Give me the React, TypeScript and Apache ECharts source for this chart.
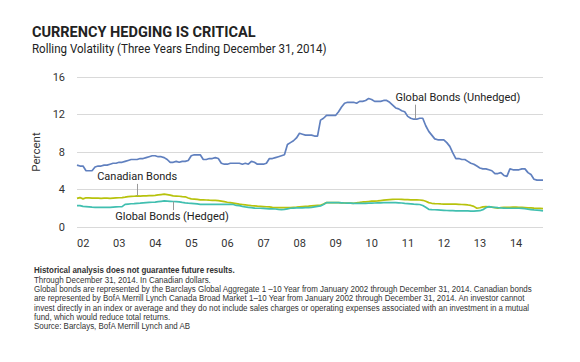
import React, { useEffect, useRef } from "react";
import * as echarts from "echarts";

const yearLabels = ["02", "03", "04", "05", "06", "07", "08", "09", "10", "11", "12", "13", "14"];
const yTicks = [0, 4, 8, 12, 16];

// Monthly rolling volatility, Jan 2002 – Dec 2014 (percent)
const globalUnhedged = [
  6.6, 6.5, 6.5, 6.0, 6.0, 6.0, 6.4, 6.5, 6.5, 6.6, 6.6, 6.7,
  6.8, 6.8, 6.9, 6.9, 7.0, 7.1, 7.2, 7.2, 7.2, 7.3, 7.3, 7.4,
  7.5, 7.6, 7.6, 7.5, 7.5, 7.4, 7.2, 6.9, 6.9, 7.0, 6.9, 7.0,
  7.0, 7.1, 7.6, 7.7, 7.7, 7.7, 7.2, 7.2, 7.3, 7.3, 7.4, 7.3,
  6.8, 6.7, 6.7, 6.8, 6.8, 6.8, 6.8, 6.7, 6.8, 6.7, 7.0, 6.9,
  6.7, 6.7, 6.7, 6.8, 7.3, 7.3, 7.4, 7.5, 7.6, 7.7, 8.8, 9.0,
  9.2, 9.5, 10.0, 9.9, 9.8, 9.8, 9.8, 9.7, 9.7, 11.4, 11.6, 11.9,
  11.9, 11.9, 11.9, 12.3, 12.8, 13.2, 13.3, 13.3, 13.3, 13.2, 13.4, 13.4,
  13.5, 13.7, 13.6, 13.4, 13.4, 13.4, 13.5, 13.5, 13.3, 13.0, 12.7, 12.6,
  12.4, 12.3, 11.8, 11.6, 11.5, 11.5, 11.6, 11.6, 10.8, 10.2, 9.8, 9.4,
  9.3, 9.3, 9.3, 9.0, 8.6, 7.9, 7.3, 7.3, 7.2, 7.2, 7.0, 6.8,
  6.7, 6.5, 6.3, 6.2, 6.2, 6.1, 6.0, 5.7, 5.7, 5.8, 5.5, 5.4,
  6.2, 6.1, 6.1, 6.1, 6.2, 6.2, 5.8, 5.6, 5.1, 5.0, 5.0, 5.0,
];

const canadianBonds = [
  3.05, 3.14, 3.0, 3.12, 3.1, 3.08, 3.07, 3.07, 3.06, 3.07, 3.07, 3.06,
  3.08, 3.1, 3.12, 3.14, 3.18, 3.24, 3.26, 3.28, 3.32, 3.3, 3.32, 3.33,
  3.34, 3.35, 3.38, 3.42, 3.46, 3.5, 3.45, 3.4, 3.32, 3.3, 3.28, 3.24,
  3.22, 3.1, 3.0, 2.98, 2.95, 2.9, 2.89, 2.88, 2.86, 2.85, 2.84, 2.82,
  2.76, 2.7, 2.64, 2.6, 2.55, 2.5, 2.44, 2.4, 2.36, 2.32, 2.28, 2.25,
  2.22, 2.2, 2.18, 2.16, 2.14, 2.1, 2.07, 2.06, 2.07, 2.08, 2.07, 2.07,
  2.1, 2.12, 2.15, 2.18, 2.2, 2.22, 2.25, 2.28, 2.3, 2.31, 2.45, 2.6,
  2.6, 2.6, 2.6, 2.6, 2.58, 2.56, 2.55, 2.54, 2.53, 2.58, 2.62, 2.67,
  2.68, 2.72, 2.75, 2.77, 2.78, 2.82, 2.86, 2.9, 2.93, 2.95, 2.96, 2.96,
  2.95, 2.93, 2.92, 2.9, 2.9, 2.89, 2.88, 2.85, 2.75, 2.6, 2.53, 2.5,
  2.48, 2.46, 2.45, 2.45, 2.44, 2.44, 2.43, 2.42, 2.4, 2.38, 2.35, 2.3,
  2.2, 2.0, 2.05, 2.15, 2.17, 2.15, 2.12, 2.05, 2.0, 2.08, 2.1, 2.1,
  2.1, 2.12, 2.12, 2.1, 2.1, 2.08, 2.05, 2.05, 2.02, 2.0, 1.98, 1.95,
];

const globalHedged = [
  2.28, 2.28, 2.2, 2.18, 2.15, 2.12, 2.1, 2.1, 2.1, 2.1, 2.1, 2.1,
  2.12, 2.14, 2.16, 2.18, 2.42, 2.45, 2.48, 2.5, 2.53, 2.55, 2.58, 2.6,
  2.62, 2.64, 2.66, 2.7, 2.74, 2.78, 2.76, 2.74, 2.72, 2.71, 2.68, 2.62,
  2.58, 2.55, 2.53, 2.5, 2.46, 2.42, 2.42, 2.42, 2.42, 2.42, 2.42, 2.42,
  2.42, 2.42, 2.42, 2.42, 2.4, 2.3, 2.28, 2.2, 2.14, 2.1, 2.06, 2.02,
  2.0, 2.0, 1.98, 1.96, 1.94, 1.93, 1.92, 1.88, 1.85, 1.88, 1.94, 2.0,
  2.02, 2.03, 2.04, 2.05, 2.06, 2.07, 2.1, 2.15, 2.2, 2.25, 2.4, 2.6,
  2.6, 2.6, 2.6, 2.6, 2.58, 2.56, 2.55, 2.54, 2.53, 2.53, 2.53, 2.53,
  2.53, 2.54, 2.55, 2.56, 2.57, 2.58, 2.6, 2.6, 2.6, 2.6, 2.6, 2.58,
  2.56, 2.52, 2.5, 2.47, 2.44, 2.42, 2.4, 2.3, 2.1, 1.89, 1.86, 1.84,
  1.82, 1.8, 1.78, 1.76, 1.75, 1.74, 1.73, 1.72, 1.72, 1.71, 1.71, 1.7,
  1.7, 1.72, 1.74, 1.85, 2.05, 2.17, 2.12, 2.1, 2.06, 2.03, 2.02, 2.0,
  2.0, 2.0, 2.0, 2.0, 1.98, 1.95, 1.9, 1.86, 1.82, 1.8, 1.78, 1.72,
];

// Annotations in data coordinates: [month index, label value], [month index, leader top value, leader bottom value]
const annotationTexts = ["Canadian Bonds", "Global Bonds (Hedged)", "Global Bonds (Unhedged)"];
const annotationLabelAt = [[20, 5.35], [31.6, 1.07], [126.7, 13.8]];
const annotationLeader = [[20, 4.6, 3.32], [32, 2.72, 1.8], [112.4, 13.05, 11.5]];

const titleText = "CURRENCY HEDGING IS CRITICAL";
const subtitleText = "Rolling Volatility (Three Years Ending December 31, 2014)";
const footBold = "Historical analysis does not guarantee future results.";
const footLines = [
  "Through December 31, 2014. In Canadian dollars.",
  "Global bonds are represented by the Barclays Global Aggregate 1 –10 Year from January 2002 through December 31, 2014. Canadian bonds",
  "are represented by BofA Merrill Lynch Canada Broad Market 1–10 Year from January 2002 through December 31, 2014. An investor cannot",
  "invest directly in an index or average and they do not include sales charges or operating expenses associated with an investment in a mutual",
  "fund, which would reduce total returns.",
  "Source: Barclays, BofA Merrill Lynch and AB",
];

const FONT = "Roboto, 'Noto Sans', sans-serif";
const FOOT = "'Liberation Sans', Arial, sans-serif";

export default function App() {
  const ref = useRef<HTMLDivElement>(null);
  useEffect(() => {
    if (!ref.current) return;
    const chart = echarts.init(ref.current, undefined, { renderer: "svg" });
    const toPts = (arr: number[]) => arr.map((v, i) => [i, v]);
    chart.setOption({
      animation: false,
      backgroundColor: "#ffffff",
      grid: { left: 77, right: 37, top: 77, bottom: 135 },
      xAxis: {
        type: "value",
        min: 0,
        max: globalUnhedged.length - 1,
        interval: 12,
        axisLine: { show: false },
        axisTick: { show: false },
        splitLine: { show: false },
        axisLabel: {
          color: "#333",
          fontFamily: FONT,
          fontSize: 11,
          margin: 11,
          align: "left",
          showMaxLabel: false,
          formatter: (v: number) => (v % 12 === 0 && v / 12 < yearLabels.length ? yearLabels[v / 12] : ""),
        },
      },
      yAxis: {
        type: "value",
        min: yTicks[0],
        max: yTicks[yTicks.length - 1],
        interval: 4,
        name: "Percent",
        nameLocation: "middle",
        nameGap: 35,
        nameTextStyle: { color: "#333", fontFamily: FONT, fontSize: 11.5 },
        axisLine: { show: false },
        axisTick: { show: false },
        splitLine: { lineStyle: { color: "#d9d9d9", width: 1 } },
        axisLabel: { color: "#333", fontFamily: FONT, fontSize: 11, margin: 12 },
      },
      series: [
        {
          type: "line",
          data: toPts(globalUnhedged),
          showSymbol: false,
          lineStyle: { color: "#6080bf", width: 1.7 },
          z: 3,
        },
        {
          type: "line",
          data: toPts(canadianBonds),
          showSymbol: false,
          lineStyle: { color: "#b7c20c", width: 1.7 },
          z: 2,
        },
        {
          type: "line",
          data: toPts(globalHedged),
          showSymbol: false,
          lineStyle: { color: "#41bfb0", width: 1.7 },
          z: 2,
        },
      ],
    });

    const px = (x: number, y: number) => chart.convertToPixel({ gridIndex: 0 }, [x, y]) as number[];
    const elements: any[] = [
      {
        type: "text",
        x: 32,
        y: 25,
        style: { text: titleText, font: `bold 14.5px ${FONT}`, fill: "#222", verticalAlign: "top" },
      },
      {
        type: "text",
        x: 32,
        y: 42,
        scaleX: 0.89,
        style: { text: subtitleText, font: `13px ${FONT}`, fill: "#222", verticalAlign: "top" },
      },
      {
        type: "text",
        x: 34,
        y: 265,
        scaleX: 0.885,
        style: { text: footBold, font: `bold 9px ${FOOT}`, fill: "#333", verticalAlign: "top" },
      },
    ];
    footLines.forEach((t, i) => {
      elements.push({
        type: "text",
        x: 34,
        y: 275 + i * 9.3,
        scaleX: 0.885,
        style: { text: t, font: `9px ${FOOT}`, fill: "#333", verticalAlign: "top" },
      });
    });
    annotationTexts.forEach((t, i) => {
      const [lx, ly] = px(annotationLabelAt[i][0], annotationLabelAt[i][1]);
      elements.push({
        type: "text",
        x: lx,
        y: ly,
        style: { text: t, font: `11px ${FONT}`, fill: "#222", align: "center", verticalAlign: "middle" },
        z: 10,
      });
      const [ax, ay1] = px(annotationLeader[i][0], annotationLeader[i][1]);
      const [, ay2] = px(annotationLeader[i][0], annotationLeader[i][2]);
      elements.push({
        type: "line",
        shape: { x1: Math.round(ax) + 0.5, y1: ay1, x2: Math.round(ax) + 0.5, y2: ay2 },
        style: { stroke: "#999", lineWidth: 1 },
        z: 10,
      });
    });
    chart.setOption({ graphic: elements });
    return () => chart.dispose();
  }, []);
  return <div ref={ref} style={{ position: "absolute", left: 0, top: 0, width: 580, height: 362 }} />;
}
